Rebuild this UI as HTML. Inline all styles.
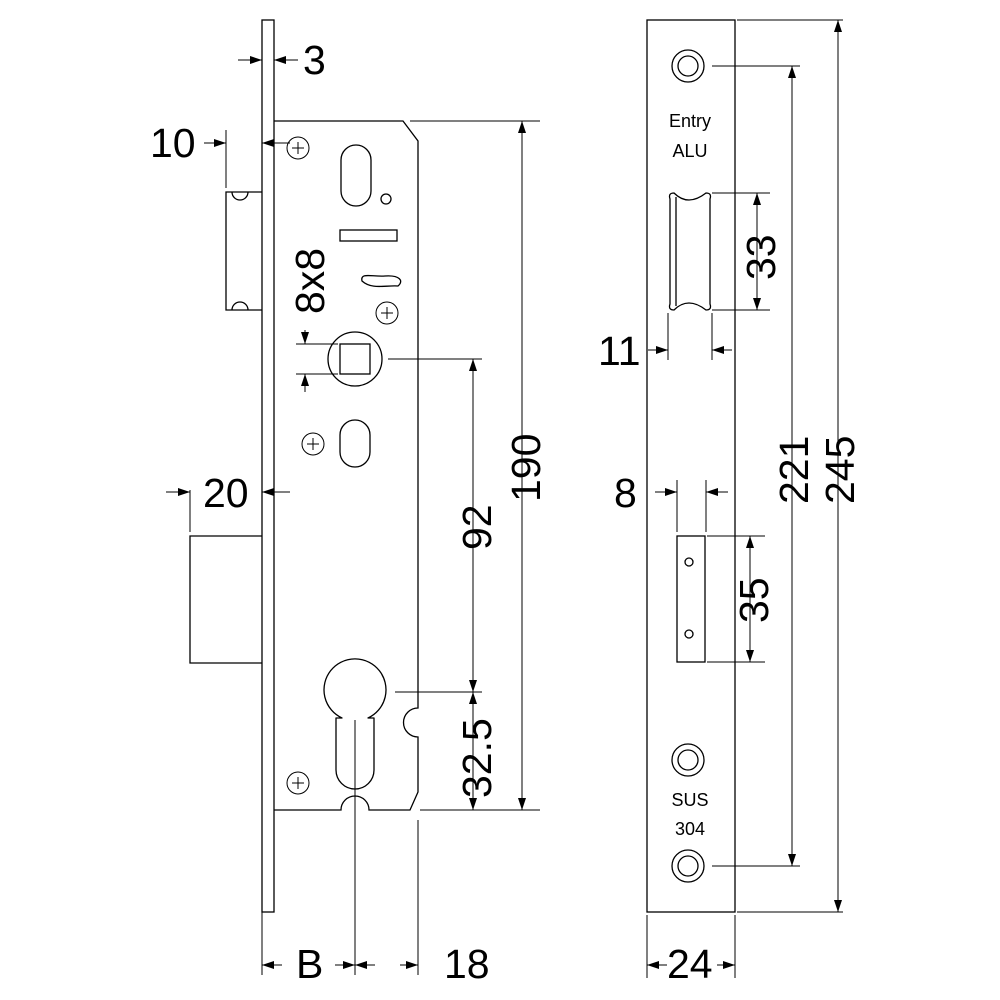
<!DOCTYPE html>
<html><head><style>body{margin:0;background:#fff}svg{display:block}text{font-family:"Liberation Sans",sans-serif;fill:#000}</style></head><body>
<svg width="1000" height="1000" viewBox="0 0 1000 1000" xmlns="http://www.w3.org/2000/svg">
<defs>
<marker id="a" viewBox="0 0 12 10" refX="12" refY="5" markerWidth="12" markerHeight="10" markerUnits="userSpaceOnUse" orient="auto"><path d="M0,1 L12,5 L0,9 Z" fill="#000"/></marker>
</defs>
<g fill="none" stroke="#000" stroke-width="1.3">
<rect x="262" y="20" width="12" height="892"/>
<path d="M274,121 L403,121 L418,141 L418,708 A14,14 0 0 0 418,737 L418,792 L410,810 L369,810 A14,14 0 0 0 341,810 L274,810"/>
<path d="M262,192 L226,192 L226,310 L262,310"/>
<path d="M232,192 A8,8 0 0 0 248,192 M232,310 A8,8 0 0 1 248,310"/>
<path d="M262,536 L190,536 L190,663 L262,663"/>
<rect x="341" y="145" width="30" height="61" rx="15"/>
<circle cx="386" cy="199" r="5"/>
<rect x="340" y="230" width="57" height="11"/>
<path d="M362,281 C360,272 372,277 385,276 C400,275 404,281 398,286 C386,285 372,290 362,281 Z"/>
<rect x="340" y="420" width="30" height="47" rx="15"/>
<rect x="340" y="344" width="30" height="30"/>
<circle cx="355" cy="359" r="27"/>
<path d="M342,718 A31,31 0 1 1 368,718 L374,718 L374,770 A19,19 0 0 1 336,770 L336,718 Z" stroke-linejoin="round"/>
<g stroke-width="1">
<circle cx="298" cy="148" r="11"/><path d="M292,148h12M298,142v12"/>
<circle cx="387" cy="313" r="11"/><path d="M381,313h12M387,307v12"/>
<circle cx="313" cy="444" r="11"/><path d="M307,444h12M313,438v12"/>
<circle cx="298" cy="783" r="11"/><path d="M292,783h12M298,777v12"/>
</g>
<rect x="647" y="20" width="88" height="892"/>
<circle cx="688" cy="66" r="16"/><circle cx="688" cy="66" r="10"/>
<circle cx="688" cy="760" r="16"/><circle cx="688" cy="760" r="10"/>
<circle cx="688" cy="866" r="16"/><circle cx="688" cy="866" r="10"/>
<path d="M674,193 Q668,193 670,199 L670,304 Q668,310 674,310 Q688,296 706,310 Q712,310 710,304 L710,199 Q712,193 706,193 Q688,207 674,193 Z"/>
<path d="M676,197 L676,306"/>
<rect x="677" y="536" width="28" height="126"/>
<circle cx="689" cy="562" r="4"/><circle cx="689" cy="634" r="4"/>
</g>
<g fill="none" stroke="#000" stroke-width="1">
<path d="M410,121 H540 M420,810 H540 M388,359 H482 M395,692 H482"/>
<path d="M226,130 V188 M190,490 V532"/>
<path d="M262,912 V975 M355,720 V975 M418,820 V975"/>
<path d="M296,344 H338 M296,374 H338"/>
<path d="M737,20 H843 M712,66 H800 M712,193 H770 M712,310 H770 M707,536 H765 M707,662 H765 M737,912 H843 M712,866 H800"/>
<path d="M668,313 V360 M712,313 V360 M677,480 V532 M706,480 V532"/>
<path d="M647,915 V978 M735,915 V978"/>
</g>
<g stroke="#000" stroke-width="1" fill="none" marker-end="url(#a)">
<path d="M238,60 H262"/><path d="M298,60 H274"/>
<path d="M204,143 H226"/><path d="M290,143 H262"/>
<path d="M166,492 H190"/><path d="M290,492 H262"/>
<path d="M305,330 V344"/><path d="M305,392 V374"/>
<path d="M522,466 V121"/><path d="M522,466 V810"/>
<path d="M473,520 V359"/><path d="M473,520 V692"/>
<path d="M473,760 V692"/><path d="M473,760 V810"/>
<path d="M282,965 H262"/><path d="M335,965 H355"/><path d="M375,965 H355"/><path d="M400,965 H418"/>
<path d="M838,466 V20"/><path d="M838,466 V912"/>
<path d="M792,466 V66"/><path d="M792,466 V866"/>
<path d="M757,250 V193"/><path d="M757,250 V310"/>
<path d="M750,600 V536"/><path d="M750,600 V662"/>
<path d="M648,350 H668"/><path d="M732,350 H712"/>
<path d="M655,492 H677"/><path d="M728,492 H706"/>
<path d="M667,965 H647"/><path d="M717,965 H735"/>
</g>
<g font-size="41">
<text x="303" y="74">3</text>
<text x="150" y="157">10</text>
<text x="203" y="507">20</text>
<text x="296" y="978">B</text>
<text x="444" y="978">18</text>
<text x="667" y="978">24</text>
<text x="598" y="365">11</text>
<text x="614" y="507">8</text>
<text transform="translate(324,314) rotate(-90)">8x8</text>
<text transform="translate(540,502) rotate(-90)">190</text>
<text transform="translate(491,550) rotate(-90)">92</text>
<text transform="translate(491,798) rotate(-90)">32.5</text>
<text transform="translate(775,280) rotate(-90)">33</text>
<text transform="translate(768,623) rotate(-90)">35</text>
<text transform="translate(808,504) rotate(-90)">221</text>
<text transform="translate(854,504) rotate(-90)">245</text>
</g>
<g font-size="18" text-anchor="middle">
<text x="690" y="127">Entry</text>
<text x="690" y="157">ALU</text>
<text x="690" y="806">SUS</text>
<text x="690" y="835">304</text>
</g>
</svg>
</body></html>
